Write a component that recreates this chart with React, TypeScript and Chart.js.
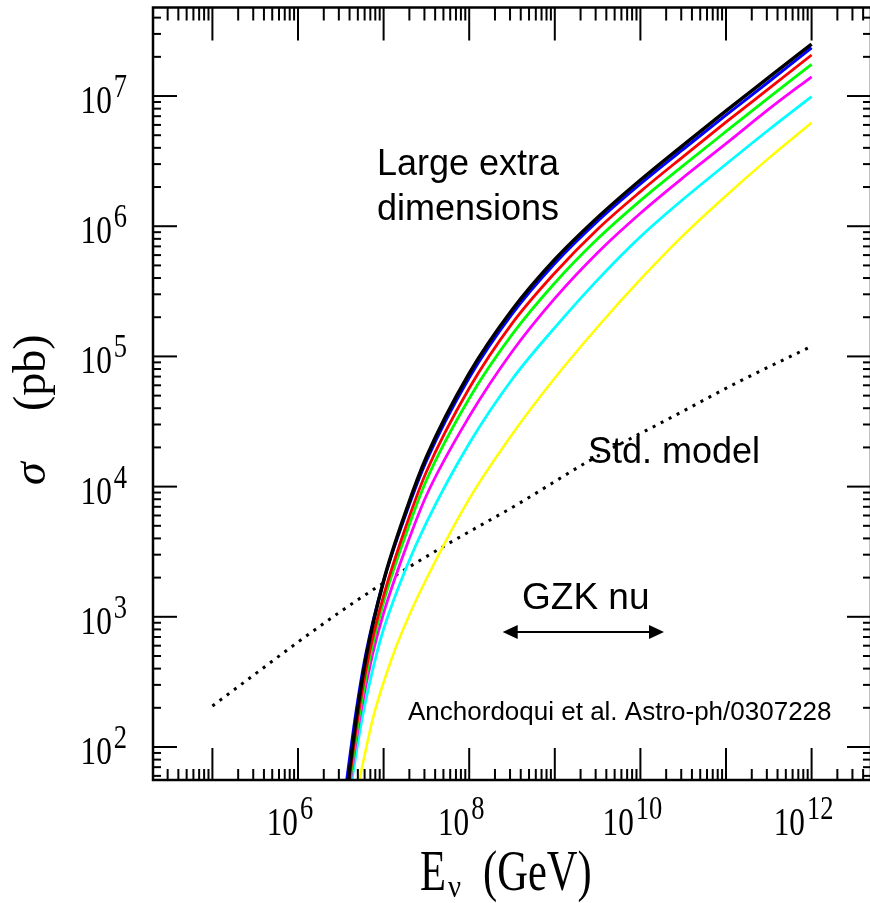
import React, { useEffect, useRef } from "react";
import { Chart, registerables } from "chart.js";

Chart.register(...registerables);

// Axis ranges (log10 of energy in GeV and of cross section in pb)
const X_MIN_LOG = 4.306;
const X_MAX_LOG = 12.694;
const Y_MIN_LOG = 1.7465;
const Y_MAX_LOG = 7.68;

// Tick labels
const xLabelExps = [6, 8, 10, 12];
const yLabelExps = [2, 3, 4, 5, 6, 7];

// Large extra dimensions curves: log10(E/GeV) and log10(sigma/pb)
const blackLogE = [6.578, 6.686, 6.803, 7.0, 7.27, 7.5, 8.0, 8.5, 9.0, 9.5, 10.0, 10.5, 11.0, 11.5, 12.0];
const blackLogS = [1.7, 2.243, 2.716, 3.275, 3.829, 4.227, 4.869, 5.356, 5.744, 6.067, 6.355, 6.623, 6.886, 7.143, 7.399];

const blueLogE = [6.56, 6.672, 6.793, 7.0, 7.27, 7.5, 8.0, 8.5, 9.0, 9.5, 10.0, 10.5, 11.0, 11.5, 12.0];
const blueLogS = [1.7, 2.243, 2.716, 3.275, 3.807, 4.197, 4.836, 5.325, 5.714, 6.039, 6.325, 6.591, 6.853, 7.11, 7.371];

const redLogE = [6.59, 6.703, 6.832, 7.0, 7.27, 7.5, 8.0, 8.5, 9.0, 9.5, 10.0, 10.5, 11.0, 11.5, 12.0];
const redLogS = [1.7, 2.243, 2.716, 3.162, 3.712, 4.114, 4.755, 5.252, 5.641, 5.977, 6.266, 6.535, 6.799, 7.057, 7.315];

const greenLogE = [6.598, 6.715, 6.849, 7.0, 7.27, 7.5, 8.0, 8.5, 9.0, 9.5, 10.0, 10.5, 11.0, 11.5, 12.0];
const greenLogS = [1.7, 2.243, 2.716, 3.114, 3.651, 4.049, 4.677, 5.167, 5.564, 5.903, 6.197, 6.466, 6.728, 6.988, 7.243];

const magentaLogE = [6.602, 6.727, 6.873, 7.0, 7.27, 7.5, 8.0, 8.5, 9.0, 9.5, 10.0, 10.5, 11.0, 11.5, 12.0];
const magentaLogS = [1.7, 2.243, 2.716, 3.029, 3.548, 3.932, 4.538, 5.036, 5.446, 5.797, 6.1, 6.374, 6.634, 6.899, 7.148];

const cyanLogE = [6.618, 6.756, 6.919, 7.0, 7.27, 7.5, 8.0, 8.5, 9.0, 9.5, 10.0, 10.5, 11.0, 11.5, 12.0];
const cyanLogS = [1.7, 2.243, 2.716, 2.906, 3.386, 3.724, 4.331, 4.823, 5.221, 5.588, 5.919, 6.207, 6.476, 6.741, 6.995];

const yellowLogE = [6.701, 6.884, 7.106, 7.27, 7.5, 8.0, 8.5, 9.0, 9.5, 10.0, 10.5, 11.0, 11.5, 12.0];
const yellowLogS = [1.7, 2.243, 2.699, 2.968, 3.29, 3.905, 4.4, 4.834, 5.226, 5.591, 5.929, 6.234, 6.523, 6.795];

// Standard model (dotted)
const stdLogE = [5.0, 5.5, 6.0, 6.49, 7.0, 7.66, 8.59, 9.41, 10.38, 11.16, 12.0];
const stdLogS = [2.315, 2.561, 2.806, 3.037, 3.26, 3.525, 3.874, 4.201, 4.538, 4.809, 5.078];

// GZK neutrino energy range (arrow)
const gzkLogE = [8.391, 10.276];
const gzkLogS = 2.884;

const SERIF = "'Liberation Serif', 'DejaVu Serif', serif";
const SANS = "'Liberation Sans', Arial, sans-serif";

function textW(ctx: CanvasRenderingContext2D, t: string, font: string, sx: number) {
  ctx.font = font;
  return ctx.measureText(t).width * sx;
}
function drawText(ctx: CanvasRenderingContext2D, t: string, x: number, y: number, font: string, sx = 1) {
  ctx.save();
  ctx.font = font;
  ctx.translate(x, y);
  ctx.scale(sx, 1);
  ctx.fillText(t, 0, 0);
  ctx.restore();
}

const decor = {
  id: "decor",
  afterDraw(chart: any) {
    const { ctx, chartArea: a, scales } = chart;
    const xs = scales.x;
    const ys = scales.y;
    ctx.save();
    ctx.strokeStyle = "#000";
    ctx.fillStyle = "#000";
    ctx.lineCap = "butt";
    const line = (x1: number, y1: number, x2: number, y2: number) => {
      ctx.beginPath();
      ctx.moveTo(x1, y1);
      ctx.lineTo(x2, y2);
      ctx.stroke();
    };
    ctx.lineWidth = 2;
    // x ticks (bottom and top)
    for (let n = 4; n <= 12; n++) {
      for (let k = 1; k <= 9; k++) {
        const lv = n + Math.log10(k);
        if (lv < X_MIN_LOG || lv > X_MAX_LOG) continue;
        const px = xs.getPixelForValue(k * Math.pow(10, n));
        line(px, a.bottom, px, a.bottom - (k === 1 ? 32 : 11));
        line(px, a.top, px, a.top + (k === 1 ? 33 : 13));
      }
    }
    // y ticks (left and right)
    for (let n = 1; n <= 7; n++) {
      for (let k = 1; k <= 9; k++) {
        const lv = n + Math.log10(k);
        if (lv < Y_MIN_LOG || lv > Y_MAX_LOG) continue;
        const py = ys.getPixelForValue(k * Math.pow(10, n));
        const len = k === 1 ? 24 : 8;
        line(a.left, py, a.left + len, py);
        line(a.right, py, a.right - len, py);
      }
    }
    // frame
    ctx.lineWidth = 2.5;
    ctx.strokeRect(a.left, a.top, a.right - a.left, a.bottom - a.top);

    // tick labels
    const SX = 0.78;
    const baseFont = `40px ${SERIF}`;
    const expFont = `34px ${SERIF}`;
    ctx.textAlign = "left";
    ctx.textBaseline = "alphabetic";
    for (const n of yLabelExps) {
      const py = ys.getPixelForValue(Math.pow(10, n));
      const wb = textW(ctx, "10", baseFont, SX);
      const we = textW(ctx, String(n), expFont, SX);
      const x0 = 127 - we - 2 - wb;
      drawText(ctx, "10", x0, py + 17, baseFont, SX);
      drawText(ctx, String(n), x0 + wb + 2, py + 1, expFont, SX);
    }
    for (const n of xLabelExps) {
      const px = xs.getPixelForValue(Math.pow(10, n));
      const wb = textW(ctx, "10", baseFont, SX);
      const we = textW(ctx, String(n), expFont, SX);
      const x0 = px - 8 - (wb + 2 + we) / 2;
      drawText(ctx, "10", x0, 835, baseFont, SX);
      drawText(ctx, String(n), x0 + wb + 2, 819, expFont, SX);
    }

    // x axis title: E_nu (GeV)
    const tFont = `56px ${SERIF}`;
    const TSX = 0.76;
    drawText(ctx, "E", 420, 890, tFont, TSX);
    const wE = textW(ctx, "E", tFont, TSX);
    drawText(ctx, "\u03BD", 420 + wE + 2, 897, `32px ${SERIF}`, 0.9);
    drawText(ctx, "(GeV)", 483, 890, tFont, TSX);

    // y axis title: sigma (pb)
    ctx.save();
    ctx.translate(45, 485);
    ctx.rotate(-Math.PI / 2);
    ctx.font = `italic 46px ${SERIF}`;
    ctx.fillText("\u03C3", 0, 0);
    ctx.restore();
    ctx.save();
    ctx.translate(45, 411);
    ctx.rotate(-Math.PI / 2);
    ctx.font = `46px ${SERIF}`;
    ctx.fillText("(pb)", 0, 0);
    ctx.restore();

    // annotations
    ctx.font = `36px ${SANS}`;
    ctx.fillText("Large extra", 377, 175);
    ctx.fillText("dimensions", 377, 220);
    ctx.fillText("Std. model", 588, 463);
    ctx.font = `37px ${SANS}`;
    ctx.fillText("GZK nu", 522, 609);
    ctx.font = `26px ${SANS}`;
    ctx.fillText("Anchordoqui et al. Astro-ph/0307228", 408, 720);

    // GZK arrow
    const ax1 = xs.getPixelForValue(Math.pow(10, gzkLogE[0]));
    const ax2 = xs.getPixelForValue(Math.pow(10, gzkLogE[1]));
    const ay = ys.getPixelForValue(Math.pow(10, gzkLogS));
    const head = 15;
    const hw = 7;
    ctx.lineWidth = 2;
    line(ax1 + head - 2, ay, ax2 - head + 2, ay);
    ctx.beginPath();
    ctx.moveTo(ax1, ay);
    ctx.lineTo(ax1 + head, ay - hw);
    ctx.lineTo(ax1 + head, ay + hw);
    ctx.closePath();
    ctx.fill();
    ctx.beginPath();
    ctx.moveTo(ax2, ay);
    ctx.lineTo(ax2 - head, ay - hw);
    ctx.lineTo(ax2 - head, ay + hw);
    ctx.closePath();
    ctx.fill();
    ctx.restore();
  },
};

export default function App() {
  const ref = useRef<HTMLCanvasElement>(null);
  useEffect(() => {
    document.body.style.margin = "0";
    document.body.style.overflow = "hidden";
    const canvas = ref.current!;
    const pts = (le: number[], ls: number[]) =>
      le.map((e, i) => ({ x: Math.pow(10, e), y: Math.pow(10, ls[i]) }));
    const ds = (label: string, le: number[], ls: number[], color: string, width: number, dash: number[] = []) => ({
      label,
      data: pts(le, ls),
      borderColor: color,
      backgroundColor: color,
      borderWidth: width,
      borderDash: dash,
      borderCapStyle: "butt",
      pointRadius: 0,
      fill: false,
      cubicInterpolationMode: "monotone",
    });
    const chart = new Chart(canvas, {
      type: "line",
      data: {
        datasets: [
          ds("black", blackLogE, blackLogS, "#000000", 3.5),
          ds("blue", blueLogE, blueLogS, "#0000ff", 3),
          ds("red", redLogE, redLogS, "#ff0000", 2.8),
          ds("green", greenLogE, greenLogS, "#00ff00", 2.8),
          ds("magenta", magentaLogE, magentaLogS, "#ff00ff", 2.8),
          ds("cyan", cyanLogE, cyanLogS, "#00ffff", 2.8),
          ds("yellow", yellowLogE, yellowLogS, "#ffff00", 2.5),
          ds("Std. model", stdLogE, stdLogS, "#000000", 3, [3, 6]),
        ] as any,
      },
      options: {
        responsive: false,
        animation: false,
        events: [],
        layout: { padding: { left: 153, right: 1, top: 7.5, bottom: 123 } },
        plugins: { legend: { display: false }, tooltip: { enabled: false } },
        scales: {
          x: {
            type: "logarithmic",
            display: false,
            bounds: "data",
            min: Math.pow(10, X_MIN_LOG),
            max: Math.pow(10, X_MAX_LOG),
          },
          y: {
            type: "logarithmic",
            display: false,
            bounds: "data",
            min: Math.pow(10, Y_MIN_LOG),
            max: Math.pow(10, Y_MAX_LOG),
          },
        },
      } as any,
      plugins: [decor],
    });
    return () => chart.destroy();
  }, []);
  return <canvas ref={ref} width={872} height={903} style={{ display: "block" }} />;
}
